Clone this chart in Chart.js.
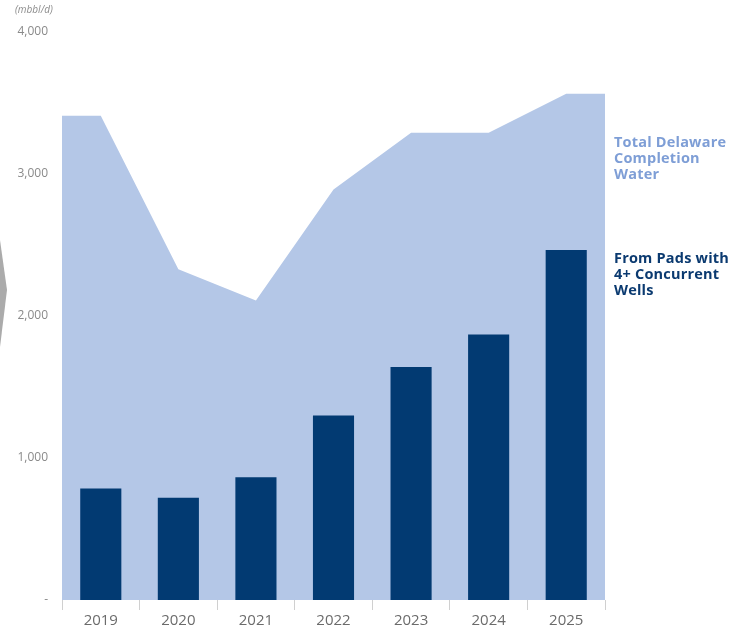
<!DOCTYPE html>
<html>
<head>
<meta charset="utf-8">
<script src="https://cdn.jsdelivr.net/npm/chart.js@4/dist/chart.umd.min.js"></script>
<style>
  body { margin: 0; background: #fff; font-family: "Open Sans", sans-serif; }
  #wrap { position: relative; width: 746px; height: 632px; }
  .unit { position: absolute; left: 15px; top: 2px; font-size: 10px; font-style: italic; color: #8c8c8c; }
  .side { position: absolute; left: 614px; font-size: 14.5px; font-weight: 700; line-height: 16px; letter-spacing: 0.2px; }
  #totalLbl { top: 134px; color: #7e9ed6; }
  #padsLbl { top: 250px; color: #0b3a70; }
</style>
</head>
<body>
<div id="wrap">
  <canvas id="chart" width="746" height="632"></canvas>
  <div class="unit">(mbbl/d)</div>
  <div class="side" id="totalLbl">Total Delaware<br>Completion<br>Water</div>
  <div class="side" id="padsLbl">From Pads with<br>4+ Concurrent<br>Wells</div>
</div>
<script>
// values, mbbl/d
let years = ['2019', '2020', '2021', '2022', '2023', '2024', '2025']
let totalWater = [3410, 2330, 2110, 2890, 3290, 3290, 3565]
let padsWater = [785, 720, 865, 1300, 1640, 1870, 2465]
let yTicks = [0, 1000, 2000, 3000, 4000]

// area runs from the left edge of the first band to the right edge of the last one
let areaPoints = [{ x: -0.5, y: totalWater[0] }]
totalWater.forEach((v, i) => areaPoints.push({ x: i, y: v }))
areaPoints.push({ x: years.length - 0.5, y: totalWater[totalWater.length - 1] })

// grey chevron from the slide behind the chart
const chevron = {
    id: 'chevron',
    beforeDraw(chart) {
        let ctx = chart.ctx
        ctx.save()
        ctx.fillStyle = '#ababab'
        ctx.beginPath()
        ctx.moveTo(0, 240)
        ctx.lineTo(7, 290)
        ctx.lineTo(0, 347)
        ctx.closePath()
        ctx.fill()
        ctx.restore()
    }
}

new Chart(document.querySelector('#chart').getContext('2d'), {
    type: 'bar',
    data: {
        labels: years,
        datasets: [{
            type: 'bar',
            label: 'From Pads with 4+ Concurrent Wells',
            data: padsWater,
            backgroundColor: '#023a72',
            barPercentage: 0.53,
            categoryPercentage: 1,
            grouped: false,
            order: 1
        }, {
            type: 'line',
            label: 'Total Delaware Completion Water',
            data: areaPoints,
            xAxisID: 'xl',
            backgroundColor: '#b4c7e7',
            borderWidth: 0,
            pointRadius: 0,
            tension: 0,
            fill: 'origin',
            order: 2
        }]
    },
    options: {
        responsive: false,
        animation: false,
        layout: { padding: { top: 32, right: 141, left: 0, bottom: 0 } },
        plugins: { legend: { display: false }, tooltip: { enabled: false } },
        scales: {
            x: {
                type: 'category',
                offset: true,
                border: { display: false },
                grid: { offset: true, drawOnChartArea: false, drawTicks: true, tickLength: 10, color: '#d0d0d0' },
                ticks: { color: '#6b6b6b', font: { family: 'Open Sans', size: 15 }, padding: 2 },
                afterFit: s => { s.height = 32 }
            },
            xl: {
                type: 'linear',
                display: false,
                offset: false,
                min: -0.5,
                max: years.length - 0.5
            },
            y: {
                min: 0,
                max: 4000,
                border: { display: false },
                grid: { display: false },
                afterBuildTicks: s => { s.ticks = yTicks.map(v => ({ value: v })) },
                ticks: {
                    color: '#8a8a8a',
                    font: { family: 'Open Sans', size: 12 },
                    padding: 6,
                    callback: v => v === 0 ? '-' : v.toLocaleString('en-US')
                },
                afterFit: s => { s.width = 62 }
            }
        }
    },
    plugins: [chevron]
})
</script>
</body>
</html>
